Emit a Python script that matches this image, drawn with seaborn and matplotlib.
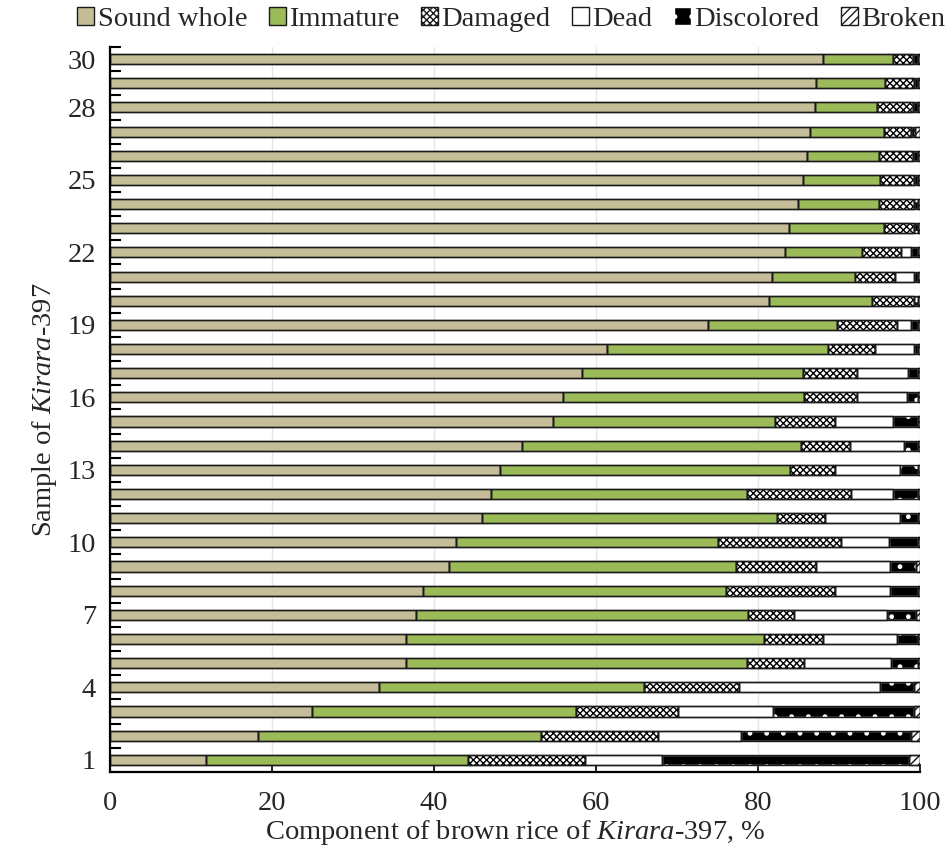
import numpy as np
import pandas as pd
import matplotlib
matplotlib.use("Agg")
import matplotlib.pyplot as plt
from matplotlib.patches import Patch
from matplotlib.ticker import FixedLocator
import seaborn as sns

# Samples of Kirara-397 brown rice and the share (%) of each grain component
samples = list(range(1, 31))
components = ["Sound whole", "Immature", "Damaged", "Dead", "Discolored", "Broken"]

sound_whole = [11.9, 18.3, 25.0, 33.2, 36.5, 36.5, 37.8, 38.7, 41.9, 42.7,
               45.9, 47.0, 48.2, 50.9, 54.7, 55.9, 58.3, 61.3, 73.8, 81.4,
               81.7, 83.3, 83.8, 84.9, 85.5, 86.1, 86.4, 87.0, 87.1, 88.0]
immature = [32.3, 34.9, 32.5, 32.7, 42.2, 44.2, 41.0, 37.3, 35.4, 32.4,
            36.4, 31.6, 35.8, 34.4, 27.4, 29.8, 27.2, 27.3, 16.0, 12.7,
            10.3, 9.6, 11.7, 10.0, 9.6, 8.8, 9.2, 7.7, 8.6, 8.7]
damaged = [14.4, 14.5, 12.6, 11.8, 7.0, 7.3, 5.7, 13.5, 9.9, 15.1,
           6.0, 12.9, 5.5, 6.0, 7.4, 6.5, 6.7, 5.8, 7.4, 5.1,
           4.9, 4.8, 3.7, 4.3, 4.1, 4.2, 3.3, 4.4, 3.5, 2.4]
dead = [9.6, 10.2, 11.8, 17.4, 10.7, 9.1, 11.4, 6.8, 9.1, 6.0,
        9.2, 5.2, 8.0, 6.7, 7.2, 6.2, 6.3, 4.8, 1.7, 0.0,
        2.3, 1.2, 0.0, 0.0, 0.0, 0.0, 0.0, 0.0, 0.0, 0.0]
discolored = [30.5, 21.0, 17.3, 4.1, 3.3, 2.6, 3.6, 3.4, 3.2, 3.5,
              2.2, 3.0, 2.2, 1.7, 3.0, 1.3, 1.2, 0.5, 0.8, 0.5,
              0.5, 0.8, 0.5, 0.5, 0.5, 0.6, 0.5, 0.6, 0.5, 0.6]
broken = [1.3, 1.1, 0.8, 0.8, 0.3, 0.3, 0.5, 0.3, 0.5, 0.3,
          0.3, 0.3, 0.3, 0.3, 0.3, 0.3, 0.3, 0.3, 0.3, 0.3,
          0.3, 0.3, 0.3, 0.3, 0.3, 0.3, 0.6, 0.3, 0.3, 0.3]

labelled_samples = [1, 4, 7, 10, 13, 16, 19, 22, 25, 28, 30]
x_ticks = [0, 20, 40, 60, 80, 100]

series = [sound_whole, immature, damaged, dead, discolored, broken]

# fill colour, hatch, edge (hatch) colour for each component
styles = {
    "Sound whole": dict(facecolor="#C4BD97", hatch=None, edgecolor="#262626"),
    "Immature": dict(facecolor="#9BBB59", hatch=None, edgecolor="#262626"),
    "Damaged": dict(facecolor="white", hatch="xxxxx", edgecolor="#000000"),
    "Dead": dict(facecolor="white", hatch=None, edgecolor="#111111"),
    "Discolored": dict(facecolor="black", hatch=".", edgecolor="white"),
    "Broken": dict(facecolor="white", hatch="////", edgecolor="#111111"),
}

sns.set_theme(style="white")
plt.rcParams["font.family"] = ["Liberation Serif", "DejaVu Serif"]
plt.rcParams["mathtext.fontset"] = "custom"
plt.rcParams["mathtext.rm"] = "Liberation Serif"
plt.rcParams["mathtext.it"] = "Liberation Serif:italic"
plt.rcParams["hatch.linewidth"] = 1.0

fig = plt.figure(figsize=(9.52, 8.61), dpi=100)
ax = fig.add_axes([0.1155, 0.1034, 0.8509, 0.842])

# long table, sample 30 drawn at the top
order = [str(s) for s in samples[::-1]]
df = pd.DataFrame({"sample": [str(s) for s in samples]})
for name, vals in zip(components, series):
    df[name] = vals
df = df.set_index("sample").loc[order].reset_index()

left = np.zeros(len(df))
for name in components:
    st = styles[name]
    sns.barplot(data=df, x=name, y="sample", order=order, orient="h",
                width=0.42, left=left, linewidth=1.0, ax=ax,
                color=st["facecolor"], saturation=1, errorbar=None, **st)
    left = left + df[name].to_numpy()

# dark outline around each segment (the discolored fill uses a white hatch)
left = np.zeros(len(df))
for name in components:
    sns.barplot(data=df, x=name, y="sample", order=order, orient="h",
                width=0.42, left=left, fill=False, color="#1a1a1a",
                saturation=1, linewidth=1.0, ax=ax, errorbar=None)
    left = left + df[name].to_numpy()

# axes styling
ax.set_xlim(0, 100)
ax.set_ylim(len(order) - 0.5, -0.5)
ax.set_xticks(x_ticks)
ax.set_xticklabels([str(t) for t in x_ticks], fontsize=20.5)
ax.xaxis.grid(True, color="#e6e6e6", linewidth=1.0)
ax.set_axisbelow(True)

pos = [order.index(str(s)) for s in labelled_samples]
ax.set_yticks(pos)
ax.set_yticklabels([str(s) for s in labelled_samples], fontsize=20.5)
ax.yaxis.set_minor_locator(FixedLocator(np.arange(-0.5, len(order), 1.0)))
ax.tick_params(axis="y", which="major", length=0, pad=10)
ax.tick_params(axis="y", which="minor", length=8, width=1.5, direction="in",
               left=True, color="black")
ax.tick_params(axis="x", which="major", length=6, width=1.2, direction="in",
               bottom=True, color="black", pad=14)

for side in ["top", "right"]:
    ax.spines[side].set_visible(False)
for side in ["left", "bottom"]:
    ax.spines[side].set_color("black")
    ax.spines[side].set_linewidth(1.6)

ax.set_xlabel(r"Component of brown rice of $\mathit{Kirara}$-$\mathit{397}$, %",
              fontsize=20.5, labelpad=1)
ax.set_ylabel(r"Sample of $\mathit{Kirara}$-$\mathit{397}$", fontsize=20.5,
              labelpad=6)

handles = [Patch(facecolor=styles[n]["facecolor"],
                 edgecolor="#1a1a1a" if n != "Discolored" else "white",
                 hatch=styles[n]["hatch"], linewidth=1.0, label=n)
           for n in components]
leg = fig.legend(handles=handles, loc="upper center", ncol=6,
                 bbox_to_anchor=(0.537, 1.012), frameon=False, fontsize=20.5,
                 handlelength=0.6, handleheight=0.6, handletextpad=0.12,
                 columnspacing=0.75, borderaxespad=0.2)

fig.savefig("out.png", dpi=100)
